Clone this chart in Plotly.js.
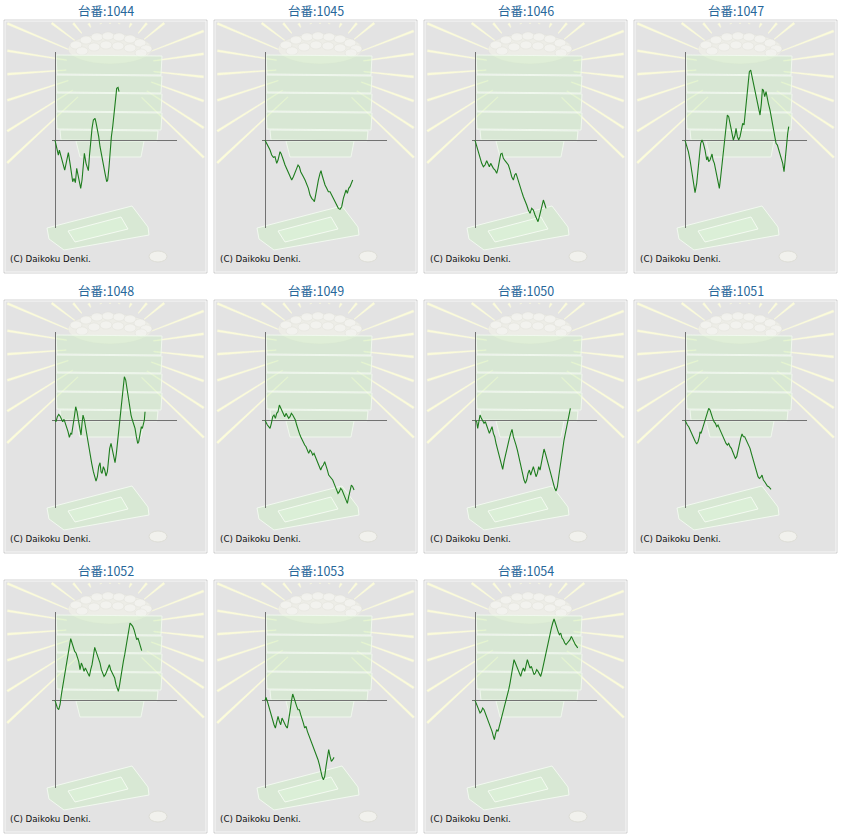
<!DOCTYPE html>
<html>
<head>
<meta charset="utf-8">
<script src="https://cdn.plot.ly/plotly-3.0.1.min.js"></script>
<style>html,body{margin:0;padding:0;background:#fff;}#chart{width:843px;height:838px;}</style>
</head>
<body>
<div id="chart"></div>
<script>
// ---- data (x: games, y: coin difference, in chart units) ----
const machines = ['1044','1045','1046','1047','1048','1049','1050','1051','1052','1053','1054'];
const titlePrefix = '台番:';
const copyright = '(C) Daikoku Denki.';

const games_1044 = [0,5,10,13,17,21,25,29,33,40,45,50,53,57,61,65,69,73,77,81,85,88,93,97,100,103,107,111,115,120,123,127,131,135,140,145,150,155,158,162,165,169,173,177,181,185,189,192];
const diff_1044  = [0,-19,-44,-29,-47,-59,-74,-89,-69,-37,-69,-99,-124,-114,-127,-84,-104,-127,-144,-119,-69,-39,-69,-84,-91,-49,1,36,61,66,53,36,11,-19,-49,-74,-99,-124,-119,-79,-29,11,41,81,121,156,159,146];

const games_1045 = [0,5,10,15,20,25,30,35,39,42,45,48,51,55,60,65,70,75,80,85,90,95,99,103,107,111,115,120,125,130,135,140,145,148,151,155,160,165,168,171,175,180,185,190,195,200,205,210,215,220,225,230,235,240,243,247,251,255,260,263];
const diff_1045  = [0,-9,-19,-29,-44,-51,-49,-69,-59,-49,-34,-39,-51,-59,-74,-84,-99,-109,-119,-109,-99,-84,-74,-79,-94,-104,-109,-119,-129,-144,-164,-174,-179,-184,-169,-144,-119,-99,-91,-104,-119,-134,-144,-154,-154,-164,-174,-184,-194,-204,-207,-199,-174,-159,-149,-159,-144,-139,-124,-119];

const games_1046 = [0,5,10,15,20,25,30,35,39,43,47,51,55,60,65,69,73,77,81,85,90,95,100,105,110,115,119,123,127,131,135,140,145,150,155,160,165,170,175,180,185,189,193,197,201,205,209,213];
const diff_1046  = [0,-19,-39,-54,-69,-79,-74,-61,-69,-79,-69,-79,-84,-89,-99,-84,-64,-41,-39,-54,-61,-66,-74,-89,-109,-119,-104,-99,-114,-129,-139,-154,-169,-179,-194,-209,-219,-204,-209,-224,-239,-244,-229,-209,-189,-179,-191,-204];

const games_1047 = [0,5,10,15,20,25,30,35,39,43,47,51,55,60,65,68,71,75,78,81,84,88,92,95,100,103,107,111,115,119,123,127,131,135,140,145,150,153,157,161,165,169,173,177,181,185,189,193,197,201,205,210,215,220,225,229,232,235,239,243,246,250,255,260,265,269,273,277,281,285,290,293,297,300,304,308,311];
const diff_1047  = [0,-14,-34,-59,-89,-124,-157,-129,-89,-49,-9,1,-9,-29,-59,-49,-64,-59,-49,-41,-59,-69,-89,-104,-124,-144,-109,-69,-29,11,51,76,71,51,26,1,16,36,11,1,11,31,51,46,91,141,181,206,211,191,171,151,121,91,76,111,153,151,131,146,126,111,91,66,41,21,-9,-14,-29,-39,-64,-69,-94,-59,-9,21,41];

const games_1048 = [0,3,7,11,15,19,23,27,31,35,39,43,47,50,54,58,62,66,70,74,78,81,84,88,92,96,100,105,110,115,119,123,127,131,135,138,141,145,149,153,157,161,164,168,172,176,180,184,188,192,196,200,204,208,212,216,220,224,228,232,236,240,244,248,251,255,259,262,265,268,270];
const diff_1048  = [0,-4,11,18,13,6,-4,3,-9,-19,-34,-51,-39,-41,-19,11,41,26,1,-24,-44,-9,16,1,-24,-49,-79,-104,-129,-154,-169,-182,-169,-139,-127,-154,-159,-139,-149,-167,-154,-119,-84,-69,-89,-104,-127,-99,-59,-19,21,61,101,131,121,91,61,36,16,1,-9,-24,-49,-69,-64,-39,-19,-24,-9,1,26];

const games_1049 = [0,3,7,11,15,19,23,27,31,35,39,43,47,51,55,59,63,67,71,75,79,83,87,91,95,99,103,107,111,115,119,123,127,131,135,139,143,147,151,155,159,163,167,171,175,179,183,187,191,195,199,203,207,211,215,219,223,227,231,235,239,243,247,251,255,259,263,267];
const diff_1049  = [0,-9,-14,-19,-24,-9,11,16,6,21,26,46,36,26,16,11,21,11,6,11,21,16,9,1,-14,-29,-39,-49,-59,-69,-74,-79,-89,-99,-89,-94,-104,-99,-109,-119,-129,-139,-149,-139,-134,-124,-134,-149,-164,-169,-174,-179,-189,-199,-209,-219,-214,-204,-209,-219,-234,-244,-249,-229,-209,-194,-199,-209];

const games_1050 = [0,5,8,12,15,19,23,27,31,35,39,43,47,51,55,59,63,67,71,75,79,83,87,91,95,99,103,107,111,115,119,123,127,131,135,139,143,147,151,155,159,163,167,171,175,179,183,187,191,195,199,203,207,211,215,219,223,227,231,235,239,243,247,251,255,259,263,267,271,275,279,283,286];
const diff_1050  = [0,-4,-24,6,16,6,-4,-9,-4,-14,-24,-39,-29,-19,-39,-49,-69,-84,-99,-119,-134,-147,-124,-104,-89,-69,-54,-39,-27,-49,-59,-74,-89,-109,-124,-139,-159,-179,-189,-179,-159,-149,-164,-154,-139,-154,-169,-159,-139,-149,-124,-99,-86,-99,-114,-134,-149,-164,-179,-194,-204,-212,-199,-169,-139,-109,-84,-59,-39,-19,1,21,36];

const games_1051 = [0,3,7,11,15,19,23,27,31,35,39,43,45,48,51,55,59,63,67,71,75,79,83,87,91,95,99,103,107,111,115,119,123,127,131,135,139,143,147,151,155,159,163,167,171,175,179,183,187,191,195,199,203,207,211,215,219,223,227,231,235,239,243,247,251,255,258];
const diff_1051  = [0,-7,-14,-19,-29,-39,-49,-57,-64,-71,-64,-49,-34,-39,-29,-14,1,11,26,36,31,16,6,-4,-9,-19,-14,-24,-34,-39,-49,-59,-69,-74,-69,-79,-84,-94,-104,-114,-109,-89,-69,-54,-41,-49,-49,-57,-64,-74,-84,-99,-114,-129,-139,-154,-169,-174,-171,-164,-179,-184,-191,-197,-199,-204,-207];

const games_1052 = [0,3,7,11,15,19,23,27,31,35,39,43,47,51,55,59,63,67,71,75,79,83,87,91,95,99,103,107,111,115,119,123,127,131,135,139,143,147,151,155,159,163,167,171,175,179,183,187,190,193,197,201,205,209,213,217,221,225,229,233,237,241,245,249,253,257,260];
const diff_1052  = [0,-13,-23,-28,-13,17,42,67,87,107,137,162,185,172,157,147,142,132,117,92,112,102,87,97,87,82,72,92,107,132,159,147,137,127,112,92,82,72,77,87,102,107,92,82,77,67,47,32,27,42,72,97,117,137,162,187,212,232,227,222,212,192,182,187,172,162,149];

const games_1053 = [0,3,7,11,15,19,23,27,31,35,39,43,47,51,55,59,63,67,71,75,79,83,87,91,95,99,103,107,111,115,119,123,127,131,135,139,143,147,151,155,159,163,167,171,175,179,183,187,191,195,199,203,207];
const diff_1053  = [0,9,-3,-18,-33,-48,-63,-73,-83,-68,-48,-63,-73,-53,-63,-73,-78,-83,-63,-33,-3,19,7,-8,-18,-28,-28,-43,-53,-68,-83,-78,-93,-103,-113,-123,-133,-143,-158,-168,-178,-193,-213,-228,-238,-228,-198,-168,-148,-168,-183,-178,-171];

const games_1054 = [0,3,7,11,15,19,23,27,31,35,39,43,47,51,55,58,61,65,69,73,77,81,85,89,93,97,101,105,109,113,117,121,125,129,133,137,141,145,149,153,157,161,165,169,173,177,181,185,189,193,197,201,205,209,213,217,221,225,229,233,237,241,245,249,253,257,261,265,269,273,277,281,285,289,293,297,301,305,308];
const diff_1054  = [0,-8,-18,-28,-38,-33,-23,-28,-38,-53,-63,-73,-83,-93,-108,-118,-103,-88,-93,-78,-63,-43,-33,-18,-3,12,32,52,77,102,122,112,102,87,77,72,87,97,87,102,122,109,97,102,92,77,82,92,87,77,72,87,107,127,147,167,182,197,217,232,244,232,217,207,197,202,187,182,172,167,172,177,182,192,182,172,167,162,157];

const series = [
  [games_1044, diff_1044],[games_1045, diff_1045],[games_1046, diff_1046],[games_1047, diff_1047],
  [games_1048, diff_1048],[games_1049, diff_1049],[games_1050, diff_1050],[games_1051, diff_1051],
  [games_1052, diff_1052],[games_1053, diff_1053],[games_1054, diff_1054]
];
const xRange = [-10, 365];
const yRange = [-262, 266];

// ---- layout geometry (pixels) ----
const W = 843, H = 838;
const COLS = 4, CELL_W = 210, CELL_H = 280;
const PANEL_X0 = 4, PANEL_Y0 = 20, PANEL_W = 203, PANEL_H = 253;
const fx = p => p / W;
const fy = p => 1 - p / H;

const shapes = [];
const annotations = [];
const traces = [];
const layout = {
  width: W, height: H,
  margin: {l: 0, r: 0, t: 0, b: 0},
  paper_bgcolor: '#ffffff',
  plot_bgcolor: 'rgba(0,0,0,0)',
  showlegend: false,
  shapes: shapes,
  annotations: annotations
};

function rectP(x0, y0, x1, y1, fill, line, lw) {
  shapes.push({type: 'rect', xref: 'paper', yref: 'paper', layer: 'below',
    x0: fx(x0), x1: fx(x1), y0: fy(y1), y1: fy(y0),
    fillcolor: fill, line: {color: line || 'rgba(0,0,0,0)', width: lw || 0}});
}
function circleP(x0, y0, x1, y1, fill, line, lw) {
  shapes.push({type: 'circle', xref: 'paper', yref: 'paper', layer: 'below',
    x0: fx(x0), x1: fx(x1), y0: fy(y1), y1: fy(y0),
    fillcolor: fill, line: {color: line || 'rgba(0,0,0,0)', width: lw || 0}});
}
function pathP(pts, fill, line, lw) {
  const d = pts.map((p, k) => (k ? 'L' : 'M') + fx(p[0]).toFixed(5) + ',' + fy(p[1]).toFixed(5)).join(' ') + ' Z';
  shapes.push({type: 'path', xref: 'paper', yref: 'paper', layer: 'below', path: d,
    fillcolor: fill, line: {color: line || 'rgba(0,0,0,0)', width: lw || 0}});
}

const rayAngles = [-44,-33,-20,-6,8,21,39,50,64,78,90,102,116,130,143,157,171,184,198,212,223];

function decorate(L, T) {
  // panel background with light frame
  rectP(L, T, L + PANEL_W, T + PANEL_H, '#e3e3e3', '#d2d2d2', 1);
  rectP(L + 1, T + 1, L + PANEL_W - 1, T + PANEL_H - 1, 'rgba(0,0,0,0)', '#f7f7f7', 1);
  // rays
  const cx = L + 106, cy = T + 47;
  const bx0 = L + 2.5, bx1 = L + PANEL_W - 2.5, by0 = T + 2.5, by1 = T + PANEL_H - 2.5;
  rayAngles.forEach(a => {
    const r = a * Math.PI / 180;
    const dx = Math.cos(r), dy = -Math.sin(r);
    let t = 1e9;
    if (dx > 1e-6) t = Math.min(t, (bx1 - cx) / dx);
    if (dx < -1e-6) t = Math.min(t, (bx0 - cx) / dx);
    if (dy > 1e-6) t = Math.min(t, (by1 - cy) / dy);
    if (dy < -1e-6) t = Math.min(t, (by0 - cy) / dy);
    t -= 1;
    const r0 = 44, w0 = 0.35, w1 = 1.1;
    const nx = -dy, ny = dx;
    pathP([
      [cx + r0 * dx + w0 * nx, cy + r0 * dy + w0 * ny],
      [cx + t * dx + w1 * nx, cy + t * dy + w1 * ny],
      [cx + t * dx - w1 * nx, cy + t * dy - w1 * ny],
      [cx + r0 * dx - w0 * nx, cy + r0 * dy - w0 * ny]
    ], 'rgba(252,252,218,1)', 'rgba(248,247,222,0.8)', 0.5);
  });
  // balls on top
  circleP(L + 64, T + 14, L + 148, T + 44, 'rgba(238,238,232,0.85)', 'rgba(225,225,218,0.8)', 0.5);
  const balls = [[72,25],[82,20],[93,17],[104,16],[115,17],[126,19],[136,23],[142,29],[78,31],[90,27],[102,25],[114,26],[126,28],[137,33]];
  balls.forEach(b => circleP(L + b[0] - 6, T + b[1] - 4, L + b[0] + 6, T + b[1] + 4, 'rgba(242,242,238,0.85)', 'rgba(222,222,214,0.8)', 0.5));
  // tower slabs
  const slabs = [[35,55],[55,73],[73,92],[92,110],[110,121]];
  slabs.forEach((s, k) => {
    const inset = k === 4 ? 4 : 0;
    pathP([[L + 52 + inset, T + s[0]], [L + 158 - inset, T + s[0] + 1], [L + 157 - inset, T + s[1]], [L + 53 + inset, T + s[1] - 1]],
      'rgba(200,238,190,0.38)', 'rgba(242,250,240,0.9)', 1);
  });
  // cup under tower
  pathP([[L + 72, T + 121], [L + 140, T + 121], [L + 137, T + 137], [L + 76, T + 137]], 'rgba(200,238,190,0.32)', 'rgba(242,250,240,0.85)', 1);
  // tray
  pathP([[L + 43, T + 208], [L + 128, T + 186], [L + 144, T + 207], [L + 145, T + 215], [L + 60, T + 230], [L + 45, T + 219]],
    'rgba(205,238,198,0.5)', 'rgba(244,251,242,0.9)', 1);
  pathP([[L + 64, T + 211], [L + 117, T + 197], [L + 124, T + 209], [L + 71, T + 222]],
    'rgba(222,244,216,0.55)', 'rgba(246,252,244,0.9)', 1);
  // coin
  circleP(L + 145, T + 231, L + 163, T + 242, '#f1f1ed', '#d8d8d0', 0.8);
}

machines.forEach((m, i) => {
  const c = i % COLS, r = Math.floor(i / COLS);
  const L = PANEL_X0 + CELL_W * c, T = PANEL_Y0 + CELL_H * r;
  decorate(L, T);
  const xs = series[i][0], ys = series[i][1];
  const n = Math.min(xs.length, ys.length);
  const xk = i === 0 ? 'x' : 'x' + (i + 1);
  const yk = i === 0 ? 'y' : 'y' + (i + 1);
  layout[i === 0 ? 'xaxis' : 'xaxis' + (i + 1)] = {
    domain: [fx(L + 47.7), fx(L + 172.7)], range: xRange, anchor: yk,
    showgrid: false, showticklabels: false, ticks: '', showline: false,
    zeroline: true, zerolinecolor: '#727272', zerolinewidth: 1, fixedrange: true
  };
  layout[i === 0 ? 'yaxis' : 'yaxis' + (i + 1)] = {
    domain: [fy(T + 207.7), fy(T + 31.7)], range: yRange, anchor: xk,
    showgrid: false, showticklabels: false, ticks: '', showline: false,
    zeroline: true, zerolinecolor: '#727272', zerolinewidth: 1, fixedrange: true
  };
  traces.push({
    type: 'scatter', mode: 'lines', x: xs.slice(0, n), y: ys.slice(0, n),
    xaxis: xk, yaxis: yk, line: {color: '#1e7d1e', width: 1.1}, hoverinfo: 'skip'
  });
  annotations.push({
    xref: 'paper', yref: 'paper', x: fx(L + PANEL_W / 2 + 0.5), y: fy(T - 10),
    xanchor: 'center', yanchor: 'middle', showarrow: false,
    text: titlePrefix + m,
    font: {family: '"Noto Sans CJK JP", "Noto Sans", sans-serif', size: 12.5, color: '#27679a'}
  });
  annotations.push({
    xref: 'paper', yref: 'paper', x: fx(L + 3.5), y: fy(T + 239.3),
    xanchor: 'left', yanchor: 'middle', showarrow: false,
    text: copyright,
    font: {family: '"DejaVu Sans", Verdana, sans-serif', size: 8.7, color: '#111111'}
  });
});

Plotly.newPlot('chart', traces, layout, {staticPlot: true, displayModeBar: false});
</script>
</body>
</html>
